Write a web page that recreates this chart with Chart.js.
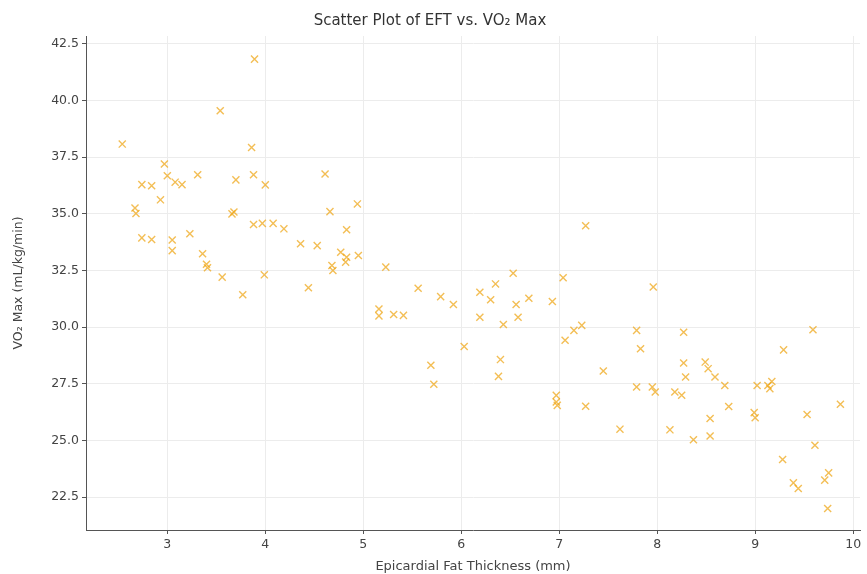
<!DOCTYPE html>
<html>
<head>
<meta charset="utf-8">
<script src="https://cdn.jsdelivr.net/npm/chart.js@4"></script>
<style>
  html, body { margin: 0; padding: 0; background: #fff; }
  #wrap { width: 867px; height: 574px; position: relative; }
</style>
</head>
<body>
<div id="wrap"><canvas id="grafica"></canvas></div>
<script>
// --- DATOS ---
const eftValues = [
    2.54, 2.67, 2.68, 2.74, 2.84, 2.74, 2.84, 2.93, 2.97, 3.00,
    3.08, 3.15, 3.05, 3.05, 3.23, 3.31, 3.36, 3.40, 3.41, 3.54,
    3.56, 3.70, 3.66, 3.68, 3.77, 3.86, 3.89, 3.88, 3.88, 3.97,
    4.00, 3.99, 4.08, 4.19, 4.36, 4.44, 4.53, 4.61, 4.66, 4.68,
    4.69, 4.77, 4.82, 4.83, 4.83, 4.94, 4.95, 5.16, 5.16, 5.23,
    5.31, 5.41, 5.56, 5.69, 5.72, 5.79, 5.92, 6.03, 6.19, 6.19,
    6.30, 6.35, 6.38, 6.40, 6.43, 6.53, 6.56, 6.58, 6.69, 6.93,
    6.97, 6.97, 6.98, 7.04, 7.06, 7.15, 7.23, 7.27, 7.27, 7.45,
    7.62, 7.79, 7.83, 7.79, 7.96, 7.95, 7.98, 8.13, 8.18, 8.25,
    8.27, 8.27, 8.29, 8.37, 8.49, 8.52, 8.59, 8.54, 8.54, 8.69,
    8.73, 8.99, 9.00, 9.02, 9.13, 9.17, 9.15, 9.28, 9.29, 9.39,
    9.44, 9.53, 9.59, 9.61, 9.71, 9.75, 9.74, 9.87
];
const vo2Values = [
    38.08, 35.26, 35.02, 36.29, 36.24, 33.94, 33.87, 35.62, 37.20, 36.68,
    36.40, 36.29, 33.85, 33.38, 34.12, 36.73, 33.24, 32.78, 32.62, 39.55,
    32.21, 36.50, 35.00, 35.08, 31.43, 37.93, 41.83, 36.73, 34.53, 34.58,
    36.28, 32.31, 34.58, 34.34, 33.68, 31.74, 33.60, 36.76, 35.10, 32.72,
    32.50, 33.31, 32.87, 33.09, 34.30, 35.44, 33.16, 30.80, 30.50, 32.65,
    30.56, 30.52, 31.72, 28.32, 27.48, 31.35, 31.00, 29.15, 31.54, 30.44,
    31.21, 31.91, 27.83, 28.57, 30.12, 32.38, 31.00, 30.44, 31.28, 31.13,
    26.99, 26.70, 26.55, 32.18, 29.42, 29.86, 30.08, 34.48, 26.51, 28.07,
    25.50, 29.86, 29.05, 27.36, 31.77, 27.36, 27.14, 25.47, 27.14, 27.00,
    29.78, 28.42, 27.80, 25.03, 28.46, 28.17, 27.80, 25.97, 25.20, 27.43,
    26.50, 26.23, 26.00, 27.43, 27.43, 27.60, 27.29, 24.16, 29.00, 23.13,
    22.88, 26.15, 29.89, 24.79, 23.25, 23.57, 22.00, 26.60
];
const xTickValues = [3, 4, 5, 6, 7, 8, 9, 10];
const yTickValues = [22.5, 25.0, 27.5, 30.0, 32.5, 35.0, 37.5, 40.0, 42.5];

const titulo = 'Scatter Plot of EFT vs. VO₂ Max';
const etiquetaX = 'Epicardial Fat Thickness (mm)';
const etiquetaY = 'VO₂ Max (mL/kg/min)';

const puntos = eftValues.map((x, i) => ({ x: x, y: vo2Values[i] }));

const fuente = "'DejaVu Sans', sans-serif";

new Chart(document.getElementById('grafica'), {
    type: 'scatter',
    data: {
        datasets: [{
            data: puntos,
            pointStyle: 'crossRot',
            pointRadius: 5,
            pointBorderWidth: 1.4,
            borderColor: 'rgba(238, 165, 20, 0.72)',
            backgroundColor: 'rgba(238, 165, 20, 0.72)',
            pointHoverRadius: 5
        }]
    },
    options: {
        responsive: true,
        maintainAspectRatio: false,
        animation: false,
        layout: { padding: { top: 0, right: 7, bottom: 0, left: 0 } },
        plugins: {
            legend: { display: false },
            tooltip: { enabled: false },
            title: {
                display: true,
                text: titulo,
                color: '#333',
                font: { family: fuente, size: 15, weight: 'normal' },
                padding: { top: 12, bottom: 6 }
            }
        },
        scales: {
            x: {
                type: 'linear',
                min: 2.17,
                max: 10.07,
                afterBuildTicks: axis => { axis.ticks = xTickValues.map(v => ({ value: v })); },
                afterFit: axis => { axis.height = 44; },
                ticks: { color: '#444', font: { family: fuente, size: 12.5 }, padding: 3 },
                grid: { color: '#ececec', tickColor: '#555', tickLength: 4 },
                border: { color: '#555', width: 1 },
                title: {
                    display: true, text: etiquetaX, color: '#444',
                    font: { family: fuente, size: 13 }, padding: { top: 2, bottom: 0 }
                }
            },
            y: {
                type: 'linear',
                min: 21.05,
                max: 42.85,
                afterBuildTicks: axis => { axis.ticks = yTickValues.map(v => ({ value: v })); },
                afterFit: axis => { axis.width = 86; },
                ticks: {
                    color: '#444', font: { family: fuente, size: 12.5 }, padding: 3,
                    callback: v => v.toFixed(1)
                },
                grid: { color: '#ececec', tickColor: '#555', tickLength: 4 },
                border: { color: '#555', width: 1 },
                title: {
                    display: true, text: etiquetaY, color: '#444',
                    font: { family: fuente, size: 12.5 }, padding: { top: 11, bottom: 2 }
                }
            }
        }
    }
});
</script>
</body>
</html>
